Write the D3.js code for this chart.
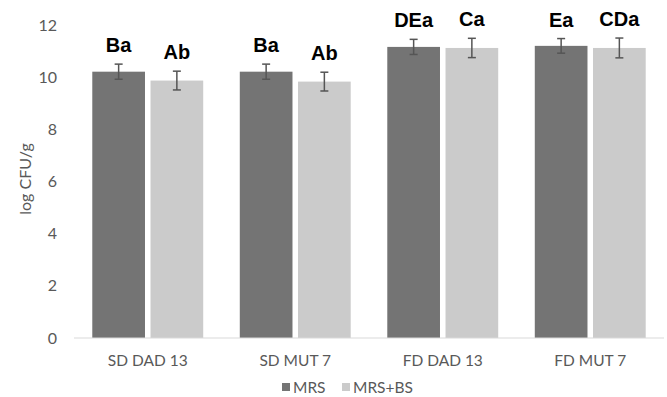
<!DOCTYPE html>
<html>
<head>
<meta charset="utf-8">
<script src="https://cdn.jsdelivr.net/npm/d3@7"></script>
<style>
  html, body { margin: 0; padding: 0; background: #fff; }
  svg { display: block; }
</style>
</head>
<body>
<svg id="chart" width="667" height="397"></svg>
<script>
// Viable counts (log CFU/g) for each strain and drying method
const categories = ["SD DAD 13", "SD MUT 7", "FD DAD 13", "FD MUT 7"];
const seriesNames = ["MRS", "MRS+BS"];
const mrsValues = [10.21, 10.21, 11.16, 11.20];
const mrsBsValues = [9.87, 9.83, 11.12, 11.12];
const mrsErrors = [0.29, 0.29, 0.29, 0.28];
const mrsBsErrors = [0.36, 0.36, 0.37, 0.38];
const mrsLetters = ["Ba", "Ba", "DEa", "Ea"];
const mrsBsLetters = ["Ab", "Ab", "Ca", "CDa"];
const yTicks = [0, 2, 4, 6, 8, 10, 12];
const colors = ["#747474", "#cbcbcb"];

const rows = [];
categories.forEach((c, i) => {
  rows.push({ cat: c, series: seriesNames[0], value: mrsValues[i], err: mrsErrors[i], letter: mrsLetters[i] });
  rows.push({ cat: c, series: seriesNames[1], value: mrsBsValues[i], err: mrsBsErrors[i], letter: mrsBsLetters[i] });
});

const svg = d3.select("#chart");
const plotLeft = 74, plotRight = 664, plotTop = 25, plotBottom = 338;
const labelFont = "'Liberation Sans', Arial, sans-serif";
const axisFont = "Lato, 'Open Sans', sans-serif";

const x = d3.scaleBand().domain(categories).range([plotLeft, plotRight]).paddingInner(0.248).paddingOuter(0.124);
const xs = d3.scaleBand().domain(seriesNames).range([0, x.bandwidth()]).paddingInner(0.095);
const y = d3.scaleLinear().domain([0, 12]).range([plotBottom, plotTop]);
const color = d3.scaleOrdinal().domain(seriesNames).range(colors);

// y-axis tick labels (no axis line)
const yAxis = svg.append("g")
  .attr("transform", `translate(${plotLeft},0)`)
  .call(d3.axisLeft(y).tickValues(yTicks).tickSize(0).tickPadding(17));
yAxis.select(".domain").remove();
yAxis.selectAll("text")
  .attr("font-family", axisFont).attr("font-size", 16).attr("fill", "#595959");

// bars
const bars = svg.append("g");
bars.selectAll("rect").data(rows).join("rect")
  .attr("x", d => x(d.cat) + xs(d.series))
  .attr("y", d => y(d.value))
  .attr("width", xs.bandwidth())
  .attr("height", d => y(0) - y(d.value))
  .attr("fill", d => color(d.series));

// baseline
svg.append("line")
  .attr("x1", plotLeft).attr("x2", plotRight)
  .attr("y1", y(0)).attr("y2", y(0))
  .attr("stroke", "#d9d9d9").attr("stroke-width", 1);

// error bars
const eb = svg.append("g").attr("stroke", "#555").attr("stroke-width", 1.5);
rows.forEach(d => {
  const cx = x(d.cat) + xs(d.series) + xs.bandwidth() / 2;
  const g = eb.append("g");
  g.append("line").attr("x1", cx).attr("x2", cx).attr("y1", y(d.value + d.err)).attr("y2", y(d.value - d.err));
  g.append("line").attr("x1", cx - 4).attr("x2", cx + 4).attr("y1", y(d.value + d.err)).attr("y2", y(d.value + d.err));
  g.append("line").attr("x1", cx - 4).attr("x2", cx + 4).attr("y1", y(d.value - d.err)).attr("y2", y(d.value - d.err));
});

// significance letters
svg.append("g").selectAll("text").data(rows).join("text")
  .attr("x", d => x(d.cat) + xs(d.series) + xs.bandwidth() / 2)
  .attr("y", d => y(d.value + d.err) - 12)
  .attr("text-anchor", "middle")
  .attr("font-family", labelFont).attr("font-weight", "bold").attr("font-size", 20)
  .attr("fill", "#000")
  .text(d => d.letter);

// category labels
const xAxis = svg.append("g")
  .attr("transform", `translate(0,${plotBottom})`)
  .call(d3.axisBottom(x).tickSize(0).tickPadding(17));
xAxis.select(".domain").remove();
xAxis.selectAll("text")
  .attr("font-family", axisFont).attr("font-size", 15.5).attr("fill", "#595959");

// y-axis title
svg.append("text")
  .attr("transform", "translate(31,179) rotate(-90)")
  .attr("text-anchor", "middle")
  .attr("font-family", axisFont).attr("font-size", 16).attr("fill", "#595959")
  .text("log CFU/g");

// legend
const legendX = [282, 342];
const legend = svg.append("g");
seriesNames.forEach((s, i) => {
  legend.append("rect").attr("x", legendX[i]).attr("y", 383).attr("width", 8).attr("height", 8).attr("fill", colors[i]);
  legend.append("text").attr("x", legendX[i] + 11).attr("y", 392.5)
    .attr("font-family", axisFont).attr("font-size", 15.5).attr("fill", "#595959").text(s);
});
</script>
</body>
</html>
